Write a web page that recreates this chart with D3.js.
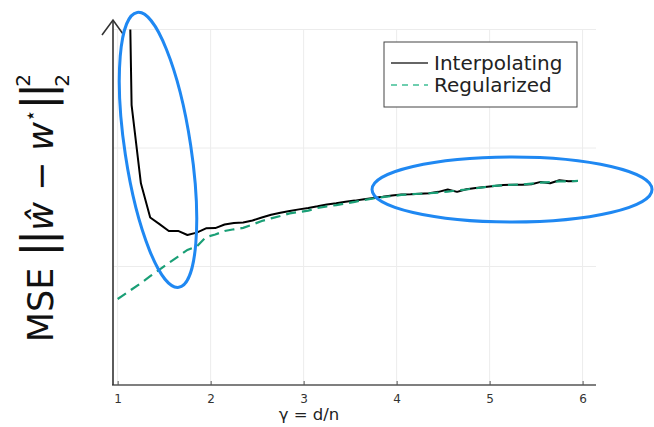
<!DOCTYPE html>
<html>
<head>
<meta charset="utf-8">
<script src="https://cdn.jsdelivr.net/npm/d3@7"></script>
<style>
  body { margin: 0; background: #fff; }
  svg { font-family: "DejaVu Sans", sans-serif; }
</style>
</head>
<body>
<div id="chart"></div>
<script>
// gamma = d/n grid (interpolating has no value at gamma = 1)
var gamma = [1.0, 1.05, 1.15, 1.25, 1.35, 1.45, 1.55, 1.65, 1.75, 1.85, 1.95,
    2.05, 2.15, 2.25, 2.35, 2.45, 2.55, 2.65, 2.75, 2.85, 2.95,
    3.05, 3.15, 3.25, 3.35, 3.45, 3.55, 3.65, 3.75, 3.85, 3.95,
    4.05, 4.15, 4.25, 4.35, 4.45, 4.55, 4.65, 4.75, 4.85, 4.95,
    5.05, 5.15, 5.25, 5.35, 5.45, 5.55, 5.65, 5.75, 5.85, 5.95];

var interpolating = [null, 3.52, 1.181, 0.851, 0.707, 0.679, 0.650, 0.650, 0.633, 0.643, 0.661,
    0.662, 0.677, 0.684, 0.686, 0.694, 0.707, 0.718, 0.727, 0.734, 0.741,
    0.747, 0.754, 0.762, 0.767, 0.773, 0.778, 0.784, 0.789, 0.794, 0.800,
    0.804, 0.805, 0.807, 0.809, 0.815, 0.825, 0.815, 0.826, 0.831, 0.835,
    0.840, 0.844, 0.845, 0.845, 0.847, 0.857, 0.851, 0.864, 0.860, 0.861];

var regularized = [0.363, 0.376, 0.403, 0.430, 0.459, 0.487, 0.515, 0.542, 0.570, 0.584, 0.624,
    0.635, 0.650, 0.657, 0.663, 0.677, 0.692, 0.703, 0.713, 0.724, 0.730,
    0.736, 0.747, 0.754, 0.759, 0.766, 0.773, 0.781, 0.787, 0.793, 0.797,
    0.802, 0.805, 0.807, 0.809, 0.812, 0.816, 0.821, 0.825, 0.830, 0.835,
    0.840, 0.843, 0.845, 0.846, 0.850, 0.854, 0.856, 0.859, 0.859, 0.861];

var xTicks = [1, 2, 3, 4, 5, 6];
var yTicks = [0.5, 1.0, 1.5];
var seriesNames = ["Interpolating", "Regularized"];
// highlighted regions (data coords of ellipse centres)
var highlights = [
    { x: 1.434, y: 0.992, rx: 33, ry: 139, angle: -8.6 },
    { x: 5.241, y: 0.825, rx: 140, ry: 32.5, angle: 0 }
];

var width = 654, height = 427;
var plotLeft = 113, plotRight = 596, plotTop = 29.5, plotBottom = 385;

var svg = d3.select('#chart').append('svg')
    .attr('width', width)
    .attr('height', height);

var x = d3.scaleLinear().domain([0.95, 6.144]).range([plotLeft, plotRight]);
var y = d3.scaleLinear().domain([0, 1.5]).range([plotBottom, plotTop]);

// grid
svg.append('g')
    .selectAll('line')
    .data(xTicks)
    .enter().append('line')
    .attr('x1', d => x(d)).attr('x2', d => x(d))
    .attr('y1', plotTop).attr('y2', plotBottom)
    .attr('stroke', '#ececec').attr('stroke-width', 1);

svg.append('g')
    .selectAll('line')
    .data(yTicks)
    .enter().append('line')
    .attr('x1', plotLeft).attr('x2', plotRight)
    .attr('y1', d => y(d)).attr('y2', d => y(d))
    .attr('stroke', '#ececec').attr('stroke-width', 1);

// x axis
var xAxis = svg.append('g')
    .attr('transform', 'translate(0,' + plotBottom + ')')
    .call(d3.axisBottom(x).tickValues(xTicks).tickSize(-4).tickPadding(9).tickFormat(d3.format('d')));
xAxis.select('.domain').attr('stroke', '#555').attr('stroke-width', 1.4)
    .attr('d', 'M' + (plotLeft - 1) + ',0H' + plotRight);
xAxis.selectAll('.tick line').attr('stroke', '#555');
xAxis.selectAll('text').attr('font-size', 12).attr('fill', '#333')
    .attr('font-family', '"DejaVu Sans", sans-serif');

// y axis with arrow
svg.append('line')
    .attr('x1', plotLeft).attr('x2', plotLeft)
    .attr('y1', plotBottom).attr('y2', 20)
    .attr('stroke', '#333').attr('stroke-width', 1.6);
svg.append('path')
    .attr('d', 'M' + (plotLeft - 11) + ',35L' + plotLeft + ',20L' + (plotLeft + 10) + ',34')
    .attr('fill', 'none').attr('stroke', '#333').attr('stroke-width', 1.6);

// clip
svg.append('clipPath').attr('id', 'clip')
    .append('rect').attr('x', plotLeft).attr('y', plotTop)
    .attr('width', plotRight - plotLeft).attr('height', plotBottom - plotTop);

var line = d3.line()
    .defined(d => d[1] != null)
    .x(d => x(d[0]))
    .y(d => y(d[1]));

var plot = svg.append('g').attr('clip-path', 'url(#clip)');

plot.append('path')
    .datum(gamma.map((g, i) => [g, interpolating[i]]))
    .attr('d', line)
    .attr('fill', 'none')
    .attr('stroke', '#000')
    .attr('stroke-width', 2)
    .attr('stroke-linejoin', 'round');

plot.append('path')
    .datum(gamma.map((g, i) => [g, regularized[i]]))
    .attr('d', line)
    .attr('fill', 'none')
    .attr('stroke', '#1a9f76')
    .attr('stroke-width', 2.2)
    .attr('stroke-dasharray', '10,6');

// legend
var legend = svg.append('g').attr('transform', 'translate(384,42)');
legend.append('rect')
    .attr('width', 193).attr('height', 65)
    .attr('fill', '#fff').attr('stroke', '#444').attr('stroke-width', 1);
legend.selectAll('line')
    .data(seriesNames)
    .enter().append('line')
    .attr('x1', 7).attr('x2', 44)
    .attr('y1', (d, i) => 21 + i * 22).attr('y2', (d, i) => 21 + i * 22)
    .attr('stroke', (d, i) => i == 0 ? '#333' : '#3fbf95')
    .attr('stroke-width', 1.3)
    .attr('stroke-dasharray', (d, i) => i == 0 ? null : '6,5');
legend.selectAll('text')
    .data(seriesNames)
    .enter().append('text')
    .attr('x', 50)
    .attr('y', (d, i) => 28 + i * 22)
    .attr('font-size', 20)
    .attr('fill', '#222')
    .text(d => d);

// highlight ellipses
svg.append('g')
    .selectAll('ellipse')
    .data(highlights)
    .enter().append('ellipse')
    .attr('transform', d => 'translate(' + x(d.x) + ',' + y(d.y) + ') rotate(' + d.angle + ')')
    .attr('rx', d => d.rx).attr('ry', d => d.ry)
    .attr('fill', 'none')
    .attr('stroke', '#1f88f2')
    .attr('stroke-width', 3);

// x label
svg.append('text')
    .attr('x', 309).attr('y', 420)
    .attr('text-anchor', 'middle')
    .attr('font-size', 16.5)
    .attr('fill', '#222')
    .text('γ = d/n');

// y label: main part, then stacked sub/superscript 2
var ylg = svg.append('g').attr('transform', 'translate(53,208) rotate(-90)');
var yl = ylg.append('text')
    .attr('font-size', 35)
    .attr('fill', '#111');
yl.append('tspan').text('MSE ');
yl.append('tspan').attr('font-size', 44).attr('letter-spacing', -3).text('||');
yl.append('tspan').attr('font-style', 'italic').attr('dx', 2).text('ŵ');
yl.append('tspan').text(' − ');
yl.append('tspan').attr('font-style', 'italic').text('w');
yl.append('tspan').attr('font-size', 20).attr('dy', -16).text('⋆');
yl.append('tspan').attr('font-size', 44).attr('dy', 16).attr('letter-spacing', -3).text('||');

var mainLen = yl.node().getComputedTextLength();
var scriptLen = 14;
var startX = -(mainLen + scriptLen) / 2;
yl.attr('x', startX);
ylg.append('text').attr('x', startX + mainLen + 1).attr('y', 16)
    .attr('font-size', 20).attr('fill', '#111').text('2');
ylg.append('text').attr('x', startX + mainLen + 1).attr('y', -23)
    .attr('font-size', 20).attr('fill', '#111').text('2');
</script>
</body>
</html>
